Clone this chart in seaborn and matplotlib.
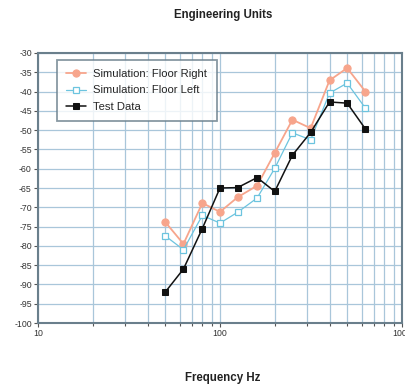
import matplotlib
matplotlib.use("Agg")
import matplotlib.pyplot as plt
import matplotlib.ticker as mticker
import seaborn as sns
import pandas as pd

freqs = [50, 63, 80, 100, 125, 160, 200, 250, 315, 400, 500, 630]
floor_right = [-73.8, -79.5, -68.9, -71.2, -67.4, -64.4, -55.9, -47.3, -49.5, -37.1, -33.9, -40.0]
floor_left = [-77.4, -81.0, -72.1, -74.1, -71.3, -67.6, -59.9, -50.7, -52.5, -40.4, -37.8, -44.3]
test_data = [-92.0, -86.0, -75.5, -65.0, -64.9, -62.3, -65.9, -56.5, -50.6, -42.7, -43.0, -49.7]
y_ticks = list(range(-100, -25, 5))

sns.set_theme(style="white")
plt.rcParams['font.family'] = ['Liberation Sans', 'DejaVu Sans']

fig = plt.figure(figsize=(4.06, 3.86), dpi=100)
ax = fig.add_axes([0.0936, 0.1632, 0.8964, 0.6995])

df_r = pd.DataFrame({"f": freqs, "v": floor_right})
df_l = pd.DataFrame({"f": freqs, "v": floor_left})
df_t = pd.DataFrame({"f": freqs, "v": test_data})

sns.lineplot(data=df_r, x="f", y="v", ax=ax, color="#f7a58c", marker="o",
             markersize=5.2, markeredgecolor="#f7a58c", linewidth=1.3,
             label="Simulation: Floor Right", zorder=3)
sns.lineplot(data=df_l, x="f", y="v", ax=ax, color="#6cc4df", marker="s",
             markersize=4.2, markerfacecolor="white", markeredgecolor="#6cc4df",
             markeredgewidth=0.9, linewidth=0.9,
             label="Simulation: Floor Left", zorder=4)
sns.lineplot(data=df_t, x="f", y="v", ax=ax, color="#111111", marker="s",
             markersize=4.3, markeredgecolor="#111111", linewidth=1.1,
             label="Test Data", zorder=5)

ax.set_xscale("log")
ax.set_xlim(10, 1000)
ax.set_ylim(-100, -30)
ax.set_yticks(y_ticks)
ax.set_yticklabels([str(v) for v in y_ticks])
ax.xaxis.set_major_locator(mticker.FixedLocator([10, 100, 1000]))
ax.xaxis.set_major_formatter(mticker.FixedFormatter(["10", "100", "1000"]))
ax.xaxis.set_minor_locator(mticker.LogLocator(base=10, subs=range(2, 10)))
ax.xaxis.set_minor_formatter(mticker.NullFormatter())

grid_c = "#a9c6da"
ax.grid(True, which="major", axis="both", color=grid_c, linewidth=0.9)
ax.grid(True, which="minor", axis="x", color=grid_c, linewidth=0.9)
ax.set_axisbelow(True)

for s in ax.spines.values():
    s.set_color("#6a7f8c")
    s.set_linewidth(1.5)

ax.tick_params(axis="both", which="major", direction="out", length=3, width=0.8,
               color="#555555", labelsize=6.3, labelcolor="#333333", pad=1.5,
               bottom=True, left=True)
ax.tick_params(axis="x", which="minor", direction="out", length=2, width=0.8,
               color="#555555", bottom=True)

ax.set_xlabel("")
ax.set_ylabel("")
fig.text(223 / 406, 1 - 15 / 386, "Engineering Units", fontsize=8.3,
         fontweight="bold", ha="center", va="center", color="#222222")
fig.text(223 / 406, 1 - 378 / 386, "Frequency Hz", fontsize=8.3,
         fontweight="bold", ha="center", va="center", color="#222222")

leg = ax.legend(loc="upper left", bbox_to_anchor=(0.052, 0.975), fontsize=8.1,
                frameon=True, fancybox=False, borderpad=0.85, labelspacing=0.55,
                handlelength=1.7, handletextpad=0.7, borderaxespad=0)
leg.get_frame().set_edgecolor("#6a7f8c")
leg.get_frame().set_linewidth(1.3)

fig.savefig("out.png", dpi=100)
